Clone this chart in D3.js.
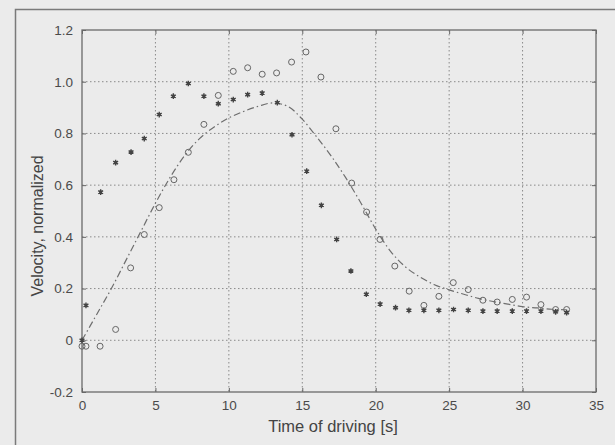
<!DOCTYPE html>
<html>
<meta charset="utf-8">
<style>
    body { margin: 0; background: #ebebeb; }
    svg { display: block; font-family: "Liberation Sans", Arial, sans-serif; }
    .grid line { stroke: #8a8a8a; stroke-width: 1px; stroke-dasharray: 1.5, 2.5; }
    .tick-label { fill: #4a4a4a; font-size: 13.5px; }
</style>

<body>
    <script src="https://d3js.org/d3.v7.min.js"></script>
    <script>

        // measured velocity (asterisks)
        var starTime = [0, 0.27, 1.27, 2.29, 3.34, 4.24, 5.26, 6.22, 7.24, 8.3, 9.28, 10.3, 11.28, 12.27, 13.3, 14.3, 15.3, 16.3,
            17.34, 18.31, 19.36, 20.3, 21.35, 22.26, 23.28, 24.3, 25.3, 26.3, 27.3, 28.27, 29.3, 30.27, 31.25, 32.25, 33.0];
        var starVel = [0.0, 0.135, 0.573, 0.687, 0.728, 0.78, 0.873, 0.944, 0.993, 0.944, 0.915, 0.931, 0.95, 0.956, 0.919, 0.795, 0.654, 0.522,
            0.39, 0.268, 0.178, 0.14, 0.126, 0.116, 0.116, 0.116, 0.119, 0.116, 0.113, 0.113, 0.113, 0.113, 0.113, 0.11, 0.107];

        // measured velocity (circles)
        var circTime = [0, 0.27, 1.23, 2.29, 3.31, 4.24, 5.26, 6.26, 7.24, 8.3, 9.28, 10.3, 11.28, 12.27, 13.25, 14.27, 15.25, 16.27,
            17.29, 18.36, 19.38, 20.29, 21.3, 22.28, 23.28, 24.3, 25.28, 26.3, 27.3, 28.27, 29.3, 30.27, 31.25, 32.25, 33.0];
        var circVel = [-0.023, -0.023, -0.023, 0.042, 0.28, 0.409, 0.513, 0.621, 0.727, 0.835, 0.947, 1.04, 1.054, 1.029, 1.034, 1.076, 1.115, 1.018,
            0.818, 0.608, 0.496, 0.39, 0.287, 0.19, 0.135, 0.17, 0.223, 0.196, 0.155, 0.148, 0.158, 0.167, 0.138, 0.119, 0.119];

        // model curve (dash-dot)
        var fitTime = [0, 1, 2, 3, 4, 5, 6, 7, 8, 9, 10, 11, 12, 13, 14, 15, 16, 17, 18, 19, 20, 21, 22, 23, 24, 25, 26, 27, 28, 29, 30, 31, 32, 33];
        var fitVel = [0, 0.1, 0.2, 0.31, 0.42, 0.53, 0.63, 0.715, 0.78, 0.825, 0.86, 0.885, 0.905, 0.918, 0.905, 0.855, 0.785, 0.71,
            0.625, 0.53, 0.43, 0.345, 0.285, 0.245, 0.215, 0.195, 0.178, 0.162, 0.15, 0.14, 0.13, 0.125, 0.12, 0.118];

        // tick labels
        var xTicks = [0, 5, 10, 15, 20, 25, 30, 35];
        var yTicks = [-0.2, 0, 0.2, 0.4, 0.6, 0.8, 1.0, 1.2];
        var yTickText = ["-0.2", "0", "0.2", "0.4", "0.6", "0.8", "1.0", "1.2"];

        var W = 615, H = 445;
        var margin = { top: 30, left: 82, right: 19, bottom: 53 },
            width = W - margin.left - margin.right,
            height = H - margin.top - margin.bottom;

        var x = d3.scaleLinear().domain([0, 35]).range([0, width]);
        var y = d3.scaleLinear().domain([-0.2, 1.2]).range([height, 0]);

        var svg = d3.select("body").append("svg")
            .attr("width", W)
            .attr("height", H);

        // outer figure frame
        svg.append("path")
            .attr("d", "M15.5," + H + "V9.5H" + W)
            .attr("fill", "none")
            .attr("stroke", "#7a7a7a")
            .attr("stroke-width", 1.5);

        var g = svg.append("g")
            .attr("transform", "translate(" + margin.left + "," + margin.top + ")");

        // dotted grid
        var grid = g.append("g").attr("class", "grid");
        grid.selectAll(".gx").data(xTicks.slice(1, -1)).enter().append("line")
            .attr("x1", function (d) { return x(d); }).attr("x2", function (d) { return x(d); })
            .attr("y1", 0).attr("y2", height);
        grid.selectAll(".gy").data(yTicks.slice(1, -1)).enter().append("line")
            .attr("y1", function (d) { return y(d); }).attr("y2", function (d) { return y(d); })
            .attr("x1", 0).attr("x2", width);

        // axes with inward ticks on all four sides
        function styleAxis(sel) {
            sel.select(".domain").remove();
            sel.selectAll(".tick line").attr("stroke", "#666");
            sel.selectAll(".tick text").attr("class", "tick-label").attr("font-family", null).attr("font-size", null);
        }
        g.append("g")
            .attr("transform", "translate(0," + height + ")")
            .call(d3.axisBottom(x).tickValues(xTicks).tickSize(-4).tickPadding(8))
            .call(styleAxis);
        g.append("g")
            .call(d3.axisTop(x).tickValues(xTicks).tickSize(-4).tickFormat(""))
            .call(styleAxis);
        g.append("g")
            .call(d3.axisLeft(y).tickValues(yTicks).tickSize(-4).tickPadding(9)
                .tickFormat(function (d, i) { return yTickText[i]; }))
            .call(styleAxis);
        g.append("g")
            .attr("transform", "translate(" + width + ",0)")
            .call(d3.axisRight(y).tickValues(yTicks).tickSize(-4).tickFormat(""))
            .call(styleAxis);

        // plot box
        g.append("rect")
            .attr("width", width).attr("height", height)
            .attr("fill", "none")
            .attr("stroke", "#6a6a6a")
            .attr("stroke-width", 1.3);

        // model curve
        var fitLine = d3.line()
            .x(function (d, i) { return x(fitTime[i]); })
            .y(function (d) { return y(d); })
            .curve(d3.curveMonotoneX);
        g.append("path")
            .datum(fitVel)
            .attr("d", fitLine)
            .attr("fill", "none")
            .attr("stroke", "#6e6e6e")
            .attr("stroke-width", 1.2)
            .attr("stroke-dasharray", "7,3,1.5,3");

        // circles
        g.selectAll(".circ").data(circVel).enter().append("circle")
            .attr("cx", function (d, i) { return x(circTime[i]); })
            .attr("cy", function (d) { return y(d); })
            .attr("r", 3)
            .attr("fill", "none")
            .attr("stroke", "#666")
            .attr("stroke-width", 1);

        // asterisks
        var star = d3.symbol().type(d3.symbolAsterisk).size(22);
        g.selectAll(".star").data(starVel).enter().append("path")
            .attr("d", star)
            .attr("transform", function (d, i) { return "translate(" + x(starTime[i]) + "," + y(d) + ")"; })
            .attr("fill", "none")
            .attr("stroke", "#444")
            .attr("stroke-width", 1.4);
        g.selectAll(".starc").data(starVel).enter().append("rect")
            .attr("x", function (d, i) { return x(starTime[i]) - 1.5; })
            .attr("y", function (d) { return y(d) - 1.5; })
            .attr("width", 3).attr("height", 3)
            .attr("fill", "#444");

        // axis labels
        svg.append("text")
            .attr("x", 333)
            .attr("y", 432)
            .attr("text-anchor", "middle")
            .attr("fill", "#444")
            .style("font-size", "16.5px")
            .text("Time of driving [s]");

        svg.append("text")
            .attr("transform", "translate(43,226) rotate(-90)")
            .attr("text-anchor", "middle")
            .attr("fill", "#444")
            .style("font-size", "16px")
            .text("Velocity, normalized");

    </script>
</body>
</html>
